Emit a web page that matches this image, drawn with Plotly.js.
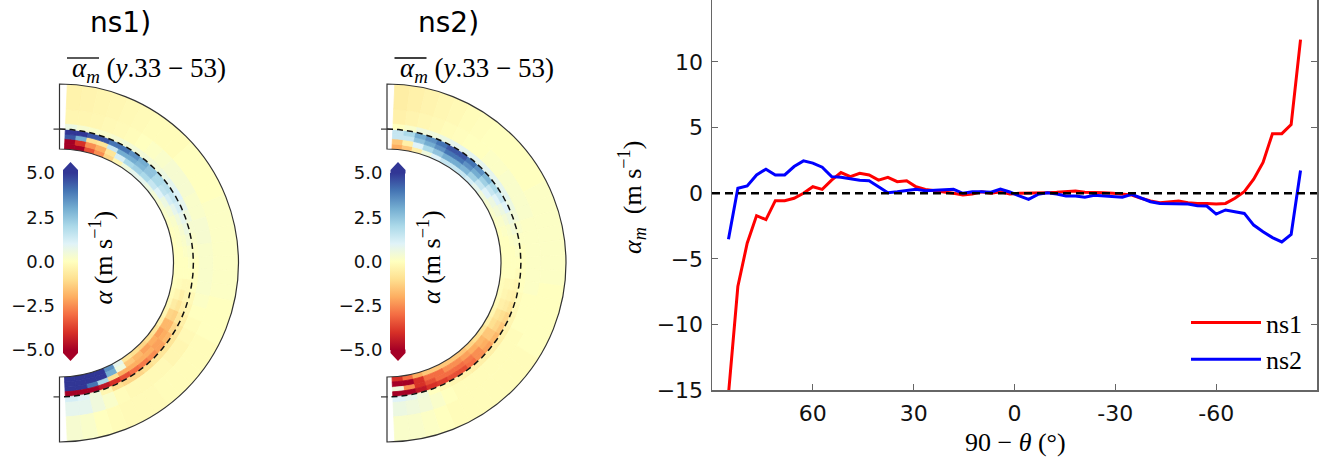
<!DOCTYPE html>
<html><head><meta charset="utf-8">
<script src="https://cdn.plot.ly/plotly-3.0.1.min.js"></script>
<style>html,body{margin:0;padding:0;background:#fff;}#chart{width:1321px;height:458px;}</style>
</head><body><div id="chart"></div>
<script>
// ================= DATA =================
// right panel: latitude (90 - theta, degrees) and alpha_m (m s^-1)
const latitude = [85.10, 82.31, 79.53, 76.74, 73.95, 71.16, 68.37, 65.58, 62.79, 60.00, 57.21, 54.42, 51.63, 48.84, 46.05, 43.26, 40.46, 37.67, 34.88, 32.09, 29.30, 26.51, 23.72, 20.93, 18.14, 15.35, 12.56, 9.77, 6.98, 4.19, 1.40,
  -1.40, -4.19, -6.98, -9.77, -12.56, -15.35, -18.14, -20.93, -23.72, -26.51, -29.30, -32.09, -34.88, -37.67, -40.46, -43.26, -46.05, -48.84, -51.63, -54.42, -57.21, -60.00, -62.79, -65.58, -68.37, -71.16, -73.95, -76.74, -79.53, -82.31, -85.10];
const alphaNs1 = [-15.3, -7.1, -3.8, -1.7, -2.0, -0.56, -0.56, -0.38, 0.0, 0.5, 0.3, 1.0, 1.58, 1.27, 1.53, 1.4, 1.0, 1.22, 0.89, 0.96, 0.5, 0.3, 0.2, 0.12, 0.0, -0.12, -0.05, 0.12, 0.0, 0.12, -0.05,
  0.0, 0.0, 0.0, 0.05, 0.08, 0.15, 0.18, 0.08, 0.08, 0.05, 0.0, -0.05, -0.13, -0.38, -0.59, -0.71, -0.64, -0.59, -0.71, -0.77, -0.77, -0.82, -0.77, -0.38, 0.13, 1.07, 2.35, 4.54, 4.54, 5.23, 11.7];
const alphaNs2 = [-3.5, 0.38, 0.56, 1.4, 1.84, 1.4, 1.4, 2.04, 2.47, 2.3, 1.99, 1.27, 1.22, 1.09, 1.0, 0.96, 0.5, 0.05, 0.12, 0.2, 0.3, 0.2, 0.25, 0.3, 0.3, 0.0, 0.12, 0.12, 0.08, 0.33, 0.1,
  -0.2, -0.46, -0.08, 0.05, -0.05, -0.2, -0.2, -0.3, -0.15, -0.2, -0.2, -0.3, -0.08, -0.38, -0.64, -0.77, -0.77, -0.77, -0.82, -0.94, -0.97, -1.58, -1.27, -1.4, -1.53, -2.42, -2.93, -3.37, -3.7, -3.14, 1.73];
const seriesNames = ["ns1", "ns2"];
const latTickVals = [60, 30, 0, -30, -60];
const latTickText = ["60", "30", "0", "-30", "-60"];
const alphaTickVals = [-15, -10, -5, 0, 5, 10, 15];

// meridional panels: latitude bin centres (deg), radial ring edges (r/R)
const polarLat = [85, 80, 75, 70, 65, 60, 55, 50, 45, 40, 35, 30, 25, 20, 15, 10, 5, 0, -5, -10, -15, -20, -25, -30, -35, -40, -45, -50, -55, -60, -65, -70, -75, -80, -85];
const ringEdges = [0.637, 0.665, 0.695, 0.72, 0.748, 0.78, 0.86, 1.0];
const dashRadius = 0.748;
// ns1 alpha (m s^-1), one list per ring, inner -> outer, north -> south
const ns1Ring0 = [-5.5, -5, -3.5, -2.5, -1.2, -0.3, 0.5, 0.8, 0.8, 0.6, 0.4, 0.3, 0.2, 0.1, 0, 0, 0, 0, 0, 0, -0.1, -0.2, -0.3, -0.5, -0.8, -1, -1.2, -1, -0.8, 0.8, 3.5, 5, 5.5, 5.5, 5.5];
const ns1Ring1 = [-5, -4, -2.5, -2, -0.8, 1.2, 2, 2.2, 2, 1.5, 1, 0.6, 0.4, 0.2, 0.1, 0.1, 0, 0, 0, -0.1, -0.3, -0.6, -1.2, -1.8, -2.2, -2, -2.2, -1.8, -1.5, 0.5, 3, 5, 5.5, 5.5, 5.5];
const ns1Ring2 = [4.5, 3, -1, -0.8, 1.5, 3, 3, 2.8, 2.5, 2, 1.6, 1.2, 0.8, 0.5, 0.3, 0.2, 0.1, 0, 0, -0.2, -0.5, -0.8, -1.3, -1.8, -2, -2.2, -2, -2, -2, -2, -1, 2, 4, 5, 5.5];
const ns1Ring3 = [5.5, 5, 4.5, 4.5, 4, 4, 3.5, 3, 2.5, 2, 1.8, 1.5, 1.2, 0.8, 0.6, 0.4, 0.2, 0.1, 0, -0.2, -0.3, -0.5, -0.8, -1.2, -1.8, -2.2, -2.5, -2.8, -3, -3.5, -4, -4.5, -5, -5.5, -5.5];
const ns1Ring4 = [0.6, 0.3, 0.2, 0.2, 0.3, 0.4, 0.4, 0.4, 0.4, 0.6, 0.8, 1, 0.8, 0.5, 0.3, 0.2, 0.1, 0, 0, 0, -0.2, -0.3, -0.5, -0.7, -0.8, -0.8, -0.8, -1, -1.2, -1.2, -1, -0.3, 0.5, 1, 1.2];
const ns1Ring5 = [-0.3, -0.3, -0.25, -0.2, -0.15, -0.1, 0, 0.1, 0.2, 0.3, 0.3, 0.3, 0.2, 0.2, 0.3, 0.3, 0.2, 0.2, 0.2, 0.2, 0.1, 0, -0.1, -0.2, -0.3, -0.3, -0.2, -0.2, -0.2, -0.2, -0.1, 0.2, 0.5, 0.8, 0.8];
const ns1Ring6 = [-0.4, -0.35, -0.3, -0.25, -0.2, -0.15, -0.1, -0.1, -0.1, 0, 0, 0, 0, 0.1, 0.1, 0.1, 0.1, 0.1, 0.1, 0.1, 0, 0, 0, -0.1, -0.1, -0.1, -0.1, -0.1, -0.15, -0.15, -0.15, -0.1, 0, 0.2, 0.3];
// ns2
const ns2Ring0 = [-2, -1.5, -0.5, 0.5, 1, 1.5, 1.5, 1.5, 1.2, 0.8, 0.5, 0.3, 0.2, 0.1, 0, 0, 0, 0, 0, -0.1, -0.1, -0.2, -0.3, -0.5, -0.8, -1, -1.2, -1.5, -1.5, -1.5, -1.5, -1.5, -2, -3, -4];
const ns2Ring1 = [-1.5, -0.5, 1, 2, 2.5, 3, 3, 2.8, 2.2, 1.5, 1, 0.6, 0.4, 0.2, 0.1, 0, 0, 0, 0, -0.2, -0.3, -0.5, -0.8, -1, -1.5, -1.8, -2, -2.2, -2.5, -2.5, -3, -3, -4, -5, -5.5];
const ns2Ring2 = [1.5, 1.5, 2.5, 3, 3.5, 4, 4, 3.5, 3, 2.2, 1.5, 1, 0.6, 0.4, 0.2, 0.1, 0, 0, 0, -0.2, -0.4, -0.6, -1, -1.2, -1.5, -2, -2.5, -2.8, -3, -3, -3, -3.5, -4, -2.5, 0.5];
const ns2Ring3 = [1.5, 2, 3, 3.5, 4, 4.5, 4.5, 4, 3.5, 2.8, 2, 1.5, 1, 0.6, 0.4, 0.2, 0.1, 0, -0.1, -0.3, -0.5, -0.8, -1.2, -1.5, -1.8, -2.2, -2.5, -3, -3.5, -3.5, -3.8, -4, -4.5, -5, -5.5];
const ns2Ring4 = [0, 0.2, 0.5, 0.5, 0.6, 0.8, 0.8, 0.8, 0.8, 0.8, 0.8, 0.8, 0.6, 0.4, 0.2, 0.1, 0, 0, 0, 0, -0.1, -0.2, -0.3, -0.4, -0.5, -0.5, -0.5, -0.5, -0.4, -0.3, -0.2, 0, 0.5, 0.8, 1];
const ns2Ring5 = [-0.45, -0.35, -0.25, -0.2, -0.1, -0.05, 0, 0, 0.1, 0.1, 0.2, 0.2, 0.2, 0.2, 0.1, 0.1, 0.1, 0.1, 0.1, 0.1, 0, 0, 0, -0.1, -0.1, -0.1, -0.1, -0.1, -0.1, -0.1, 0, 0.2, 0.4, 0.5, 0.6];
const ns2Ring6 = [-0.55, -0.45, -0.35, -0.25, -0.2, -0.1, -0.05, 0, 0, 0, 0, 0, 0.1, 0.1, 0.1, 0.1, 0.1, 0.1, 0.1, 0, 0, 0, 0, 0, -0.1, -0.1, -0.1, -0.1, -0.1, -0.1, -0.1, 0, 0.1, 0.2, 0.2];
const colorbarTicks = [-5, -2.5, 0, 2.5, 5];

// ================= BUILD =================
const W = 1321, H = 458;
const px = x => x / W;
const py = y => 1 - y / H;
const RDYLBU = [[0, '#a50026'], [0.1, '#d73027'], [0.2, '#f46d43'], [0.3, '#fdae61'], [0.4, '#fee090'],
  [0.5, '#ffffbf'], [0.6, '#e0f3f8'], [0.7, '#abd9e9'], [0.8, '#74add1'], [0.9, '#4575b4'], [1, '#313695']];
const SERIF = 'Liberation Serif';
const SANS = 'DejaVu Sans';

function cells(rings) {
  const th = [], base = [], r = [], c = [];
  rings.forEach((ring, k) => ring.forEach((v, j) => {
    th.push(polarLat[j]); base.push(ringEdges[k]); r.push(ringEdges[k + 1] - ringEdges[k]); c.push(v);
  }));
  return {th, base, r, c};
}

const panels = [
  {name: 'ns1', rings: [ns1Ring0, ns1Ring1, ns1Ring2, ns1Ring3, ns1Ring4, ns1Ring5, ns1Ring6], cx: 59.5, off: 0, polar: 'polar'},
  {name: 'ns2', rings: [ns2Ring0, ns2Ring1, ns2Ring2, ns2Ring3, ns2Ring4, ns2Ring5, ns2Ring6], cx: 387, off: 327.5, polar: 'polar2'}
];
const CY = 263, R = 179;
const arcTheta = [90].concat(polarLat, [-90]);

const traces = [];
const shapes = [];
const annotations = [];
const layout = {
  width: W, height: H, margin: {l: 0, r: 0, t: 0, b: 0},
  paper_bgcolor: '#fff', plot_bgcolor: '#fff',
  font: {family: SANS, color: '#000'},
  showlegend: true
};

panels.forEach((p, i) => {
  const g = cells(p.rings);
  const cbX0 = 63 + p.off, cbX1 = 78 + p.off, cbTop = 173, cbBot = 350;
  traces.push({
    type: 'barpolar', subplot: p.polar, theta: g.th, base: g.base, r: g.r, width: 5,
    marker: {
      color: g.c, colorscale: RDYLBU, cmin: -5, cmax: 5, showscale: true,
      line: {width: 0.8, color: g.c, colorscale: RDYLBU, cmin: -5, cmax: 5},
      colorbar: {x: px(cbX0), xanchor: 'left', y: py((cbTop + cbBot) / 2), yanchor: 'middle',
        len: cbBot - cbTop, lenmode: 'pixels', thickness: cbX1 - cbX0, thicknessmode: 'pixels',
        xpad: 0, ypad: 0, outlinewidth: 0, showticklabels: false, ticks: ''}
    },
    hoverinfo: 'skip', showlegend: false
  });
  traces.push({
    type: 'scatterpolar', subplot: p.polar, theta: arcTheta, r: arcTheta.map(() => dashRadius),
    mode: 'lines', line: {color: '#111', width: 1.5, dash: '6px,4px'}, hoverinfo: 'skip', showlegend: false
  });
  layout[p.polar] = {
    domain: {x: [px(p.cx), px(p.cx + R)], y: [py(CY + R), py(CY - R)]},
    sector: [-90, 90], hole: ringEdges[0], bgcolor: 'rgba(0,0,0,0)',
    radialaxis: {range: [ringEdges[0], 1], visible: false},
    angularaxis: {rotation: 0, direction: 'counterclockwise', showline: true, linecolor: '#333', linewidth: 1.2,
      showgrid: false, showticklabels: false, ticks: ''}
  };
  const xa = 'xaxis' + (i + 2), ya = 'yaxis' + (i + 2);
  layout[xa] = {domain: [px(cbX0), px(cbX1)], range: [0, 1], visible: false, anchor: 'y' + (i + 2)};
  layout[ya] = {domain: [py(cbBot), py(cbTop)], range: [-5, 5], anchor: 'x' + (i + 2), side: 'left',
    tickvals: colorbarTicks, tickformat: '.1f', ticks: '', showgrid: false, zeroline: false, showline: false,
    ticklabelstandoff: 7, tickfont: {family: SANS, size: 18, color: '#111'}};
  traces.push({type: 'scatter', x: [], y: [], xaxis: 'x' + (i + 2), yaxis: 'y' + (i + 2), showlegend: false, hoverinfo: 'skip'});
  const mid = (cbX0 + cbX1) / 2;
  shapes.push({type: 'path', xref: 'paper', yref: 'paper', layer: 'above',
    path: `M ${px(cbX0)},${py(cbTop + 0.5)} L ${px(cbX0)},${py(cbTop - 3)} L ${px(mid)},${py(cbTop - 11)} L ${px(cbX1)},${py(cbTop - 3)} L ${px(cbX1)},${py(cbTop + 0.5)} Z`,
    fillcolor: '#313695', line: {width: 0}});
  shapes.push({type: 'path', xref: 'paper', yref: 'paper', layer: 'above',
    path: `M ${px(cbX0)},${py(cbBot - 0.5)} L ${px(cbX0)},${py(cbBot + 3)} L ${px(mid)},${py(cbBot + 11)} L ${px(cbX1)},${py(cbBot + 3)} L ${px(cbX1)},${py(cbBot - 0.5)} Z`,
    fillcolor: '#a50026', line: {width: 0}});
  [CY - dashRadius * R, CY + dashRadius * R].forEach(yy => shapes.push({type: 'line', xref: 'paper', yref: 'paper',
    x0: px(p.cx - 6), x1: px(p.cx), y0: py(yy), y1: py(yy), line: {color: '#333', width: 1.2}}));
  annotations.push({text: p.name + ')', xref: 'paper', yref: 'paper', x: px(120.5 + p.off), y: py(23),
    showarrow: false, xanchor: 'center', yanchor: 'middle', font: {family: SANS, size: 28, color: '#000'}});
  annotations.push({text: '<i>α<sub>m</sub></i> (<i>y</i>.33 − 53)',
    xref: 'paper', yref: 'paper', x: px(149 + p.off), y: py(70), showarrow: false, xanchor: 'center', yanchor: 'middle',
    font: {family: SERIF, size: 27, color: '#000'}});
  shapes.push({type: 'line', xref: 'paper', yref: 'paper', x0: px(67 + p.off), x1: px(99 + p.off), y0: py(58), y1: py(58),
    line: {color: '#000', width: 1.3}});
  annotations.push({text: '<i>α</i> (m s<sup>−1</sup>)', xref: 'paper', yref: 'paper', x: px(101.5 + p.off), y: py(257),
    textangle: -90, showarrow: false, xanchor: 'center', yanchor: 'middle', font: {family: SERIF, size: 26, color: '#000'}});
});

const lineColors = ['#ff0000', '#0000ff'];
[alphaNs1, alphaNs2].forEach((vals, k) => traces.push({
  type: 'scatter', mode: 'lines', x: latitude, y: vals, name: seriesNames[k],
  line: {color: lineColors[k], width: 3}, hoverinfo: 'skip'
}));

layout.xaxis = {domain: [px(712), px(1317)], range: [90, -90], anchor: 'y',
  tickvals: latTickVals, ticktext: latTickText, ticks: 'inside', ticklen: 6, tickcolor: '#666',
  showline: true, linecolor: '#666', linewidth: 1.5, mirror: false, showgrid: false, zeroline: false,
  ticklabelstandoff: 3, tickfont: {family: SANS, size: 22, color: '#111'}};
layout.yaxis = {domain: [py(390.3), 1], range: [-15, 14.72], anchor: 'x',
  tickvals: alphaTickVals, ticks: 'inside', ticklen: 6, tickcolor: '#666',
  showline: true, linecolor: '#666', linewidth: 1.5, mirror: 'ticks', showgrid: false, zeroline: false,
  ticklabelstandoff: 3, tickfont: {family: SANS, size: 22, color: '#111'}};
shapes.push({type: 'line', xref: 'x', yref: 'y', x0: 90, x1: -90, y0: 0, y1: 0, layer: 'above',
  line: {color: '#000', width: 2.5, dash: '8px,5px'}});
annotations.push({text: '<i>α<sub>m</sub></i>  (m s<sup>−1</sup>)', xref: 'paper', yref: 'paper', x: px(632), y: py(198),
  textangle: -90, showarrow: false, xanchor: 'center', yanchor: 'middle', font: {family: SERIF, size: 26, color: '#000'}});
annotations.push({text: '90 − <i>θ</i> (°)', xref: 'paper', yref: 'paper', x: px(1015), y: py(442),
  showarrow: false, xanchor: 'center', yanchor: 'middle', font: {family: SERIF, size: 26, color: '#000'}});

layout.legend = {x: px(1308), xanchor: 'right', y: py(383), yanchor: 'bottom', bgcolor: 'rgba(0,0,0,0)',
  borderwidth: 0, font: {family: SERIF, size: 26, color: '#000'}, itemwidth: 70, tracegroupgap: 0};
layout.shapes = shapes;
layout.annotations = annotations;

Plotly.newPlot('chart', traces, layout, {staticPlot: true, displayModeBar: false});
</script></body></html>
